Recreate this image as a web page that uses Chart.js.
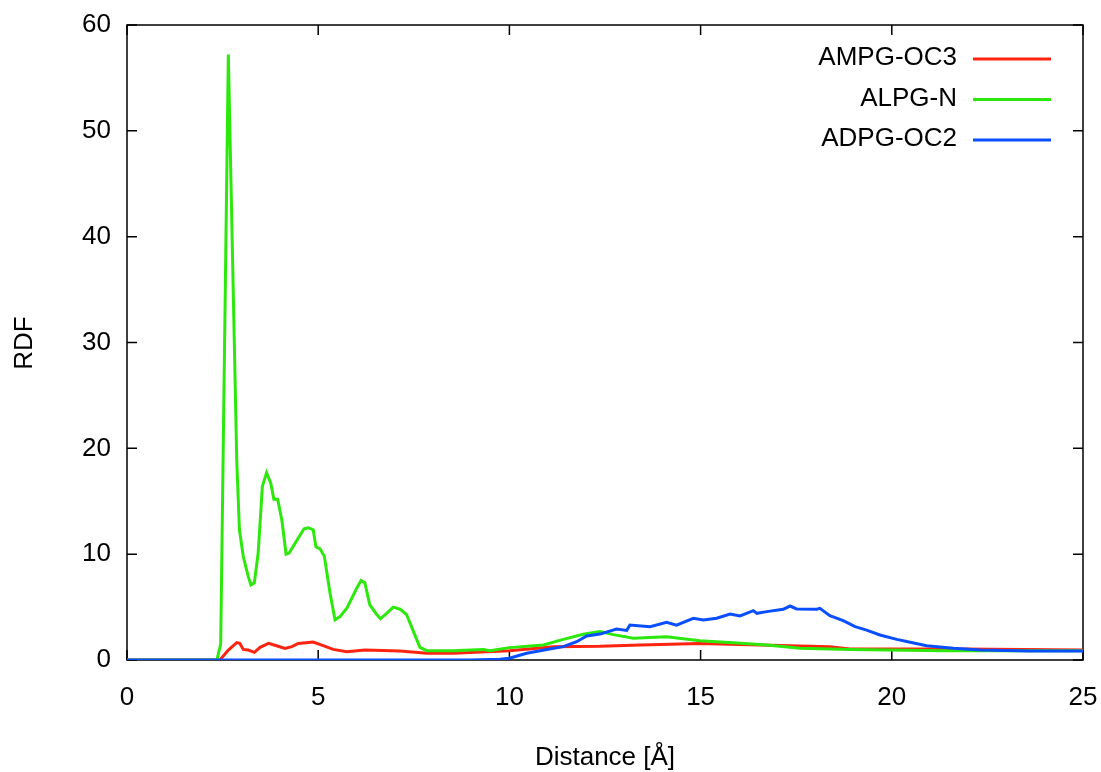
<!DOCTYPE html>
<html>
<head>
<meta charset="utf-8">
<script src="https://cdn.jsdelivr.net/npm/chart.js@4.4.0/dist/chart.umd.min.js"></script>
<style>
  body { margin: 0; background: #fff; }
</style>
</head>
<body>
<canvas id="rdfChart" width="1101" height="772"></canvas>
<script>
// data (distance in Å, RDF value)
const distOC3 = [0, 2.43, 2.65, 2.87, 2.95, 3.04, 3.17, 3.33, 3.48, 3.7, 3.91, 4.13, 4.31, 4.48, 4.87, 5.13, 5.39, 5.75, 6.22, 7.14, 7.84, 8.53, 10.0, 11.15, 12.37, 13.42, 14.98, 17.6, 18.38, 18.91, 21.87, 25];
const rdfOC3 = [0, 0, 0.94, 1.64, 1.57, 1.0, 0.94, 0.72, 1.2, 1.57, 1.35, 1.1, 1.26, 1.57, 1.7, 1.35, 1.0, 0.79, 0.94, 0.85, 0.63, 0.63, 0.88, 1.26, 1.3, 1.42, 1.57, 1.32, 1.26, 1.04, 1.04, 0.94];

const distN = [0, 2.35, 2.45, 2.65, 2.87, 2.94, 3.04, 3.17, 3.24, 3.33, 3.43, 3.54, 3.65, 3.76, 3.84, 3.94, 4.05, 4.16, 4.24, 4.44, 4.63, 4.74, 4.87, 4.94, 5.05, 5.16, 5.31, 5.44, 5.57, 5.75, 6.01, 6.12, 6.22, 6.35, 6.53, 6.63, 6.79, 6.96, 7.14, 7.31, 7.49, 7.66, 7.84, 8.53, 9.32, 9.49, 10.0, 10.89, 11.41, 11.93, 12.37, 12.72, 13.24, 14.11, 14.98, 15.86, 16.73, 17.6, 18.91, 21.43, 25];
const rdfN = [0, 0, 1.5, 57.2, 18.9, 12.3, 9.8, 7.9, 7.1, 7.3, 10.1, 16.4, 17.7, 16.7, 15.2, 15.2, 13.2, 10.0, 10.1, 11.3, 12.4, 12.5, 12.3, 10.7, 10.5, 9.8, 6.3, 3.8, 4.1, 4.9, 6.8, 7.5, 7.3, 5.2, 4.3, 3.9, 4.4, 5.0, 4.8, 4.3, 2.7, 1.2, 0.88, 0.88, 1.0, 0.88, 1.17, 1.42, 1.95, 2.43, 2.7, 2.4, 2.05, 2.2, 1.83, 1.64, 1.42, 1.1, 1.0, 0.88, 0.88];

const distOC2 = [0, 8.97, 9.75, 10.0, 10.45, 10.98, 11.41, 11.76, 12.02, 12.37, 12.8, 13.07, 13.15, 13.68, 14.11, 14.37, 14.81, 15.07, 15.42, 15.77, 16.03, 16.2, 16.38, 16.47, 16.73, 17.16, 17.34, 17.51, 18.04, 18.12, 18.38, 18.73, 19.04, 19.34, 19.69, 20.13, 20.48, 20.91, 21.61, 22.31, 23.61, 25];
const rdfOC2 = [0, 0, 0.07, 0.16, 0.63, 1.0, 1.26, 1.73, 2.27, 2.45, 2.93, 2.8, 3.3, 3.15, 3.56, 3.3, 3.94, 3.78, 3.94, 4.35, 4.16, 4.41, 4.66, 4.41, 4.57, 4.79, 5.1, 4.82, 4.79, 4.88, 4.19, 3.72, 3.15, 2.83, 2.36, 1.95, 1.67, 1.35, 1.1, 0.94, 0.85, 0.85];

const seriesNames = ['AMPG-OC3', 'ALPG-N', 'ADPG-OC2'];
const seriesColors = ['#ff2410', '#2de80c', '#0a4eff'];

const xTicks = [0, 5, 10, 15, 20, 25];
const yTicks = [0, 10, 20, 30, 40, 50, 60];

const FONT = 'Liberation Sans, Arial, Helvetica, sans-serif';

function points(xs, ys) {
  return xs.map((x, i) => ({ x: x, y: ys[i] }));
}

// frame with inward ticks on all four sides (gnuplot style)
const frameTicks = {
  id: 'frameTicks',
  beforeDatasetsDraw(chart) {
    const { ctx, chartArea: { left, right, top, bottom } } = chart;
    const xs = chart.scales.x, ys = chart.scales.y;
    const len = 10;
    ctx.save();
    ctx.strokeStyle = '#000';
    ctx.lineWidth = 1.5;
    ctx.strokeRect(left, top, right - left, bottom - top);
    ctx.beginPath();
    xTicks.forEach(v => {
      const px = xs.getPixelForValue(v);
      ctx.moveTo(px, bottom); ctx.lineTo(px, bottom - len);
      ctx.moveTo(px, top); ctx.lineTo(px, top + len);
    });
    yTicks.forEach(v => {
      const py = ys.getPixelForValue(v);
      ctx.moveTo(left, py); ctx.lineTo(left + len, py);
      ctx.moveTo(right, py); ctx.lineTo(right - len, py);
    });
    ctx.stroke();
    ctx.restore();
  },
  afterDraw(chart) {
    const { ctx, chartArea: { left, right } } = chart;
    ctx.save();
    ctx.fillStyle = '#000';
    ctx.font = `26px ${FONT}`;
    ctx.textBaseline = 'middle';
    ctx.textAlign = 'center';
    ctx.fillText('Distance [Å]', (left + right) / 2, 758);
    ctx.translate(25, 343);
    ctx.rotate(-Math.PI / 2);
    ctx.fillText('RDF', 0, 0);
    ctx.restore();

    // legend, text right aligned with a line sample after it
    ctx.save();
    ctx.font = `26px ${FONT}`;
    ctx.textAlign = 'right';
    ctx.textBaseline = 'middle';
    ctx.lineWidth = 3;
    seriesNames.forEach((name, i) => {
      const y = 58 + i * 40.5;
      ctx.fillStyle = '#000';
      ctx.fillText(name, 957, y);
      ctx.strokeStyle = seriesColors[i];
      ctx.beginPath();
      ctx.moveTo(973, y + 1);
      ctx.lineTo(1051, y + 1);
      ctx.stroke();
    });
    ctx.restore();
  }
};

const rdfConfig = {
  type: 'line',
  data: {
    datasets: [
      { label: seriesNames[0], data: points(distOC3, rdfOC3), borderColor: seriesColors[0], order: 2 },
      { label: seriesNames[1], data: points(distN, rdfN), borderColor: seriesColors[1], order: 1 },
      { label: seriesNames[2], data: points(distOC2, rdfOC2), borderColor: seriesColors[2], order: 0 }
    ]
  },
  options: {
    responsive: false,
    animation: false,
    parsing: false,
    elements: {
      point: { radius: 0 },
      line: { borderWidth: 3, tension: 0 }
    },
    layout: { padding: { top: 25, right: 18, left: 0, bottom: 0 } },
    scales: {
      x: {
        type: 'linear',
        min: 0,
        max: 25,
        afterFit(s) { s.height = 112; s.paddingLeft = 0; s.paddingRight = 0; },
        afterBuildTicks(s) { s.ticks = xTicks.map(v => ({ value: v })); },
        grid: { display: false, drawTicks: false },
        border: { display: false },
        ticks: { color: '#000', padding: 22, font: { size: 26, family: FONT } }
      },
      y: {
        type: 'linear',
        min: 0,
        max: 60,
        afterFit(s) { s.width = 127; s.paddingTop = 0; s.paddingBottom = 0; },
        afterBuildTicks(s) { s.ticks = yTicks.map(v => ({ value: v })); },
        grid: { display: false, drawTicks: false },
        border: { display: false },
        ticks: { color: '#000', padding: 16, font: { size: 26, family: FONT } }
      }
    },
    plugins: {
      legend: { display: false },
      tooltip: { enabled: false }
    }
  },
  plugins: [frameTicks]
};

const rdfChart = new Chart(document.getElementById('rdfChart'), rdfConfig);
</script>
</body>
</html>
